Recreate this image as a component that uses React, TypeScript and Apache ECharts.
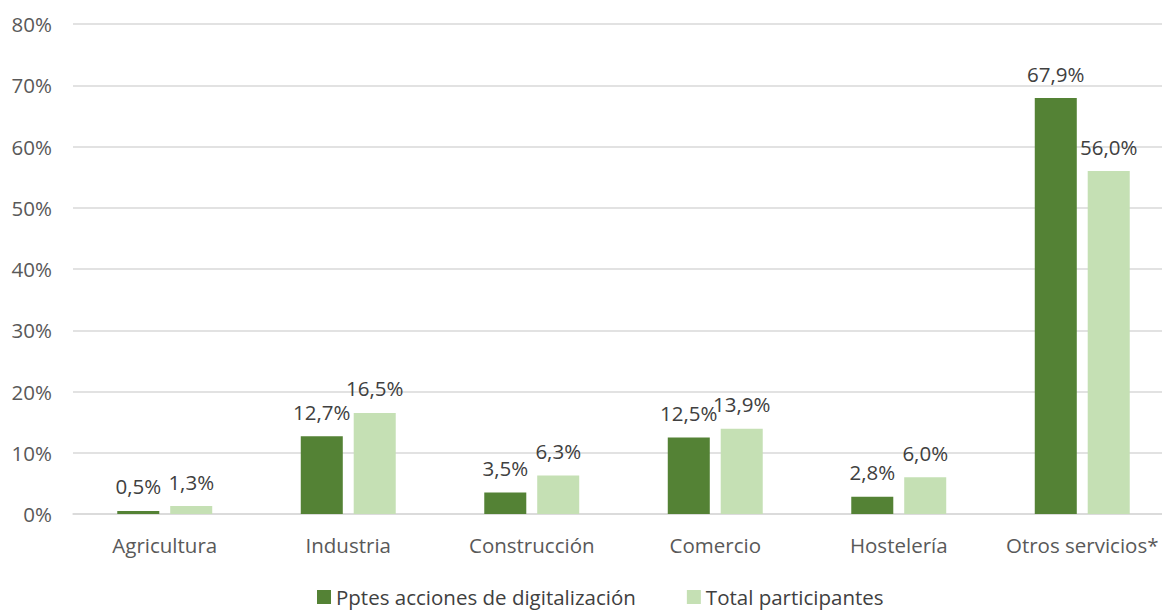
import React, { useEffect, useRef } from "react";
import * as echarts from "echarts";

const categories = ["Agricultura", "Industria", "Construcción", "Comercio", "Hostelería", "Otros servicios*"];
const seriesNames = ["Pptes acciones de digitalización", "Total participantes"];
const pptesValues = [0.5, 12.7, 3.5, 12.5, 2.8, 67.9];
const totalValues = [1.3, 16.5, 6.3, 13.9, 6.0, 56.0];

const fmt = (v: number) => v.toFixed(1).replace(".", ",") + "%";
const FONT = "'Open Sans', 'Noto Sans', sans-serif";

export default function App() {
  const ref = useRef<HTMLDivElement>(null);
  useEffect(() => {
    document.body.style.margin = "0";
    const chart = echarts.init(ref.current!, null, { renderer: "svg" });
    const label = {
      show: true,
      position: "top" as const,
      distance: 14,
      color: "#404040",
      fontSize: 20.5,
      fontFamily: FONT,
      formatter: (p: any) => fmt(p.value),
    };
    chart.setOption({
      animation: false,
      grid: { left: 73, right: 0, top: 24, bottom: 96, containLabel: false },
      legend: {
        top: 584,
        left: 317,
        padding: 0,
        itemWidth: 14,
        itemHeight: 14,
        itemGap: 51,
        icon: "rect",
        textStyle: { color: "#404040", fontSize: 20.5, fontFamily: FONT, lineHeight: 26 },
        data: seriesNames,
      },
      xAxis: {
        type: "category",
        data: categories,
        axisLine: { lineStyle: { color: "#d9d9d9", width: 1.5 } },
        axisTick: { show: false },
        axisLabel: { color: "#595959", fontSize: 20.5, fontFamily: FONT, margin: 20, interval: 0 },
      },
      yAxis: {
        type: "value",
        min: 0,
        max: 80,
        interval: 10,
        axisLine: { show: false },
        axisTick: { show: false },
        splitLine: { lineStyle: { color: "#d9d9d9", width: 1.5 } },
        axisLabel: {
          color: "#595959",
          fontSize: 20.5,
          fontFamily: FONT,
          margin: 21,
          formatter: (v: number) => v + "%",
        },
      },
      series: [
        {
          name: seriesNames[0],
          type: "bar",
          data: pptesValues,
          barWidth: "22.9%",
          barGap: "26%",
          itemStyle: { color: "#548235" },
          label,
        },
        {
          name: seriesNames[1],
          type: "bar",
          data: totalValues,
          barWidth: "22.9%",
          itemStyle: { color: "#C5E0B4" },
          label,
        },
      ],
    });
    return () => chart.dispose();
  }, []);
  return (
    <div style={{ width: 1162, height: 610, overflow: "hidden", position: "relative" }}>
      <div ref={ref} style={{ width: 1174, height: 610 }} />
    </div>
  );
}
